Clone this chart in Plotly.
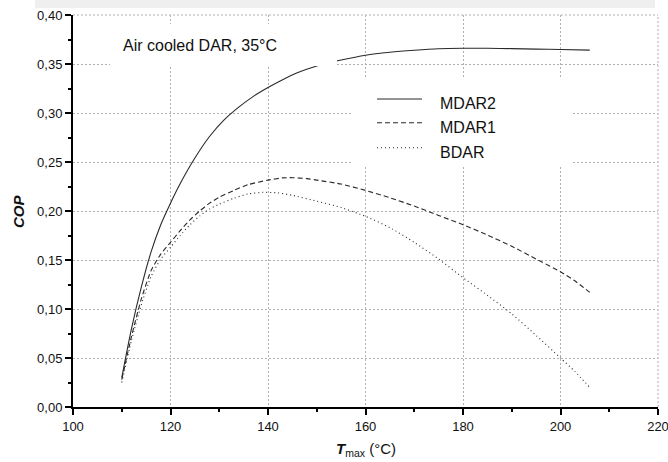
import plotly.graph_objects as go

# ---- data ----
t_mdar2 = [110, 112, 114, 116, 118, 120, 122, 125, 128, 131, 134, 137, 140, 143, 146,
           150, 155, 160, 165, 170, 175, 180, 185, 190, 195, 200, 206]
cop_mdar2 = [0.030, 0.080, 0.122, 0.158, 0.186, 0.208, 0.228, 0.254, 0.276, 0.293, 0.306,
             0.317, 0.326, 0.334, 0.341, 0.348, 0.354, 0.359, 0.362, 0.364, 0.3655, 0.366,
             0.366, 0.3657, 0.3652, 0.3648, 0.3642]

t_mdar1 = [110, 112, 114, 116, 118, 120, 122, 124, 126, 128, 130, 133, 136, 140, 143, 145,
           148, 150, 155, 160, 165, 170, 175, 180, 185, 190, 195, 200, 203, 206]
cop_mdar1 = [0.028, 0.072, 0.110, 0.139, 0.156, 0.168, 0.180, 0.191, 0.200, 0.208, 0.214,
             0.221, 0.227, 0.2315, 0.2338, 0.234, 0.233, 0.2315, 0.2275, 0.221, 0.2135, 0.205,
             0.1955, 0.186, 0.1755, 0.164, 0.151, 0.138, 0.1285, 0.117]

t_bdar = [110, 112, 114, 116, 118, 120, 122, 124, 126, 128, 130, 133, 136, 139, 142, 145,
          150, 155, 160, 165, 170, 175, 180, 185, 190, 195, 200, 203, 206]
cop_bdar = [0.025, 0.068, 0.104, 0.133, 0.151, 0.163, 0.175, 0.186, 0.195, 0.202, 0.207,
            0.213, 0.2175, 0.219, 0.2185, 0.216, 0.210, 0.2035, 0.1946, 0.183, 0.168, 0.151,
            0.132, 0.114, 0.095, 0.073, 0.050, 0.036, 0.020]

series_names = ["MDAR2", "MDAR1", "BDAR"]

x_tickvals = [100, 120, 140, 160, 180, 200, 220]
x_ticktext = ["100", "120", "140", "160", "180", "200", "220"]
x_minor = [110, 130, 150, 170, 190, 210]
y_tickvals = [0.00, 0.05, 0.10, 0.15, 0.20, 0.25, 0.30, 0.35, 0.40]
y_ticktext = ["0,00", "0,05", "0,10", "0,15", "0,20", "0,25", "0,30", "0,35", "0,40"]
y_minor = [0.025, 0.075, 0.125, 0.175, 0.225, 0.275, 0.325, 0.375]

annotation_text = "Air cooled DAR, 35°C"

# ---- layout helpers ----
W, H = 668, 462
L, R, T, B = 73, 10, 15, 55
PW, PH = W - L - R, H - T - B


def px(xp):
    return (xp - L) / PW


def py(yp):
    return (H - B - yp) / PH


FONT = "Arial, Liberation Sans, sans-serif"
LINE_COLOR = "#2a2a2a"
GRID_COLOR = "#b0b0b0"
dashes = ["solid", "5px,3px", "1px,3px"]

fig = go.Figure()
for name, xs, ys, d in zip(series_names, [t_mdar2, t_mdar1, t_bdar],
                           [cop_mdar2, cop_mdar1, cop_bdar], dashes):
    fig.add_trace(go.Scatter(x=xs, y=ys, mode="lines", name=name,
                             line=dict(color=LINE_COLOR, width=1.1, dash=d, shape="spline",
                                       smoothing=0.6),
                             showlegend=False))

shapes = []
# dotted frame on the top and right sides
shapes.append(dict(type="line", xref="paper", yref="paper", x0=1, x1=1, y0=0, y1=1,
                   line=dict(color=GRID_COLOR, width=1, dash="2px,2px"), layer="below"))
shapes.append(dict(type="line", xref="paper", yref="paper", x0=0, x1=1, y0=1, y1=1,
                   line=dict(color=GRID_COLOR, width=1, dash="2px,2px"), layer="below"))
# grey band at the very top
shapes.append(dict(type="rect", xref="paper", yref="paper", x0=px(35), x1=px(655),
                   y0=py(8), y1=py(0), fillcolor="#efefef", line_width=0, layer="above"))
# white boxes behind the text objects (hide grid, as in the reference)
shapes.append(dict(type="rect", xref="paper", yref="paper", x0=px(110), x1=px(337),
                   y0=py(66), y1=py(24), fillcolor="white", line_width=0, layer="above"))
shapes.append(dict(type="rect", xref="paper", yref="paper", x0=px(352), x1=px(573),
                   y0=py(166), y1=py(78), fillcolor="white", line_width=0, layer="above"))

# legend samples
leg_y = [99, 122.7, 147.7]
leg_text_y = [103, 127, 152]
annotations = []
for name, d, ly, ty in zip(series_names, dashes, leg_y, leg_text_y):
    shapes.append(dict(type="line", xref="paper", yref="paper", x0=px(377), x1=px(422),
                       y0=py(ly), y1=py(ly), line=dict(color=LINE_COLOR, width=1.1, dash=d),
                       layer="above"))
    annotations.append(dict(text=name, xref="paper", yref="paper", x=px(438), y=py(ty),
                            xanchor="left", yanchor="middle", showarrow=False,
                            font=dict(family=FONT, size=16, color="#111")))

annotations.append(dict(text=annotation_text, xref="paper", yref="paper", x=px(121),
                        y=py(45), xanchor="left", yanchor="middle", showarrow=False,
                        font=dict(family=FONT, size=16, color="#111")))
annotations.append(dict(text="<b><i>COP</i></b>", xref="paper", yref="paper", x=px(18),
                        y=0.5, xanchor="center", yanchor="middle", textangle=-90,
                        showarrow=False, font=dict(family=FONT, size=15, color="#111")))
annotations.append(dict(text="<b><i>T</i></b><sub>max</sub> (°C)", xref="paper",
                        yref="paper", x=0.5, y=py(449), xanchor="center", yanchor="middle",
                        showarrow=False, font=dict(family=FONT, size=15, color="#111")))

axis_common = dict(showline=True, linecolor="black", linewidth=2, ticks="outside",
                   ticklen=6, tickwidth=1.5, tickcolor="black", showgrid=True,
                   gridcolor=GRID_COLOR, griddash="2px,2px", gridwidth=1, zeroline=False,
                   tickfont=dict(family=FONT, size=13, color="#111"), mirror=False,
                   ticklabeloverflow="allow", automargin=False)

fig.update_layout(
    width=W, height=H, margin=dict(l=L, r=R, t=T, b=B, autoexpand=False),
    paper_bgcolor="white", plot_bgcolor="white",
    font=dict(family=FONT),
    xaxis=dict(range=[100, 220], tickmode="array", tickvals=x_tickvals, ticktext=x_ticktext,
               minor=dict(tickmode="array", tickvals=x_minor, ticks="outside", ticklen=3,
                          tickcolor="black", tickwidth=1.5, showgrid=False),
               **axis_common),
    yaxis=dict(range=[0, 0.40], tickmode="array", tickvals=y_tickvals, ticktext=y_ticktext,
               minor=dict(tickmode="array", tickvals=y_minor, ticks="outside", ticklen=3,
                          tickcolor="black", tickwidth=1.5, showgrid=False),
               **axis_common),
    shapes=shapes, annotations=annotations,
)

fig.write_html("out.html")
